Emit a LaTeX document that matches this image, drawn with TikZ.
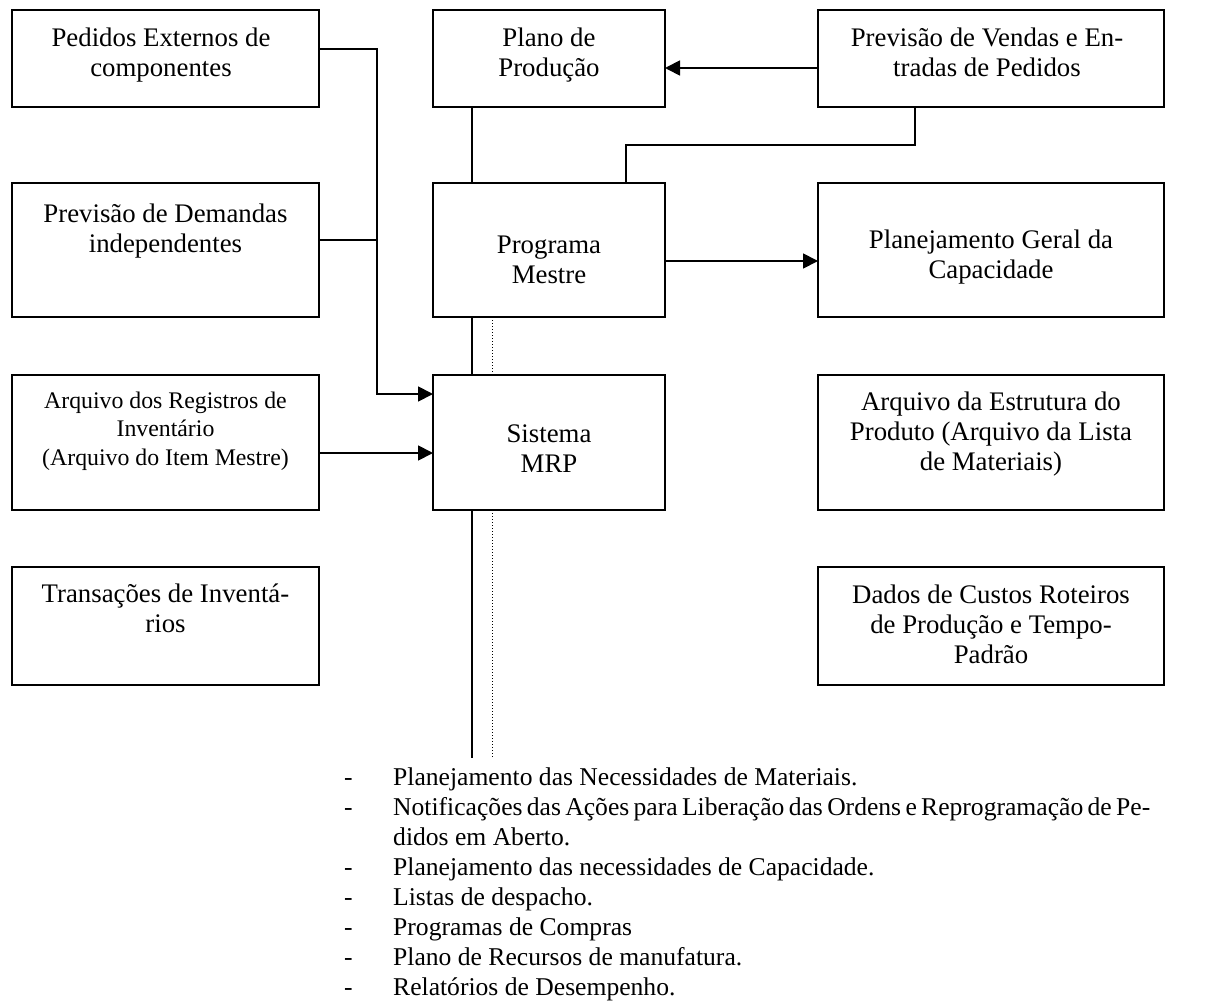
\documentclass[tikz,border=0pt]{standalone}
\usepackage{fontspec}
\setmainfont{Liberation Serif}
\usetikzlibrary{arrows.meta}
\begin{document}
\begin{tikzpicture}[x=1pt,y=-1pt,
  box/.style={draw, line width=1.8pt, inner sep=0pt, outer sep=0pt},
  wide/.style={minimum width=307pt},
  mid/.style={minimum width=232pt},
  right/.style={minimum width=346pt},
  txt/.style={align=center, inner sep=0pt, font=\fontsize{26.8}{30}\selectfont},
  small/.style={align=center, inner sep=0pt, font=\fontsize{23.8}{28.5}\selectfont},
  item/.style={anchor=base west, inner sep=0pt, font=\fontsize{25.6}{30}\selectfont},
  wire/.style={line width=1.8pt},
  arr/.style={wire, -{Triangle[length=15pt,width=15pt]}},
  dotline/.style={line width=1pt, dotted},
  ]
\useasboundingbox (0,0) rectangle (1231,1003);

% left column
\node[box, wide, minimum height=97pt]  (pedidos)    at (165.5,58.5)  {};
\node[box, wide, minimum height=134pt] (demandas)   at (165.5,250)   {};
\node[box, wide, minimum height=135pt] (registros)  at (165.5,442.5) {};
\node[box, wide, minimum height=118pt] (transacoes) at (165.5,626)   {};
% centre column
\node[box, mid, minimum height=97pt]   (plano)      at (549,58.5)    {};
\node[box, mid, minimum height=134pt]  (programa)   at (549,250)     {};
\node[box, mid, minimum height=135pt]  (mrp)        at (549,442.5)   {};
% right column
\node[box, right, minimum height=97pt]  (vendas)     at (991,58.5)   {};
\node[box, right, minimum height=134pt] (capacidade) at (991,250)    {};
\node[box, right, minimum height=135pt] (estrutura)  at (991,442.5)  {};
\node[box, right, minimum height=118pt] (dados)      at (991,626)    {};

% box texts
\node[txt] (pedidosT)    at (161,56)    {\strut Pedidos Externos de\\componentes\strut};
\node[txt] (demandasT)   at (165.5,231) {\strut Previsão de Demandas\\independentes\strut};
\node[small] (registrosT) at (165.5,431) {\strut Arquivo dos Registros de\\Inventário\\(Arquivo do Item Mestre)\strut};
\node[txt] (transacoesT) at (165.5,611) {\strut Transações de Inventá-\\rios\strut};
\node[txt] (planoT)      at (549,56)    {\strut Plano de\\Produção\strut};
\node[txt] (programaT)   at (549,262)   {\strut Programa\\Mestre\strut};
\node[txt] (mrpT)        at (549,451)   {\strut Sistema\\MRP\strut};
\node[txt] (vendasT)     at (987,56)    {\strut Previsão de Vendas e En-\\tradas de Pedidos\strut};
\node[txt] (capacidadeT) at (991,257)   {\strut Planejamento Geral da\\Capacidade\strut};
\node[txt] (estruturaT)  at (991,434)   {\strut Arquivo da Estrutura do\\Produto (Arquivo da Lista\\de Materiais)\strut};
\node[txt] (dadosT)      at (991,627)   {\strut Dados de Custos Roteiros\\de Produção e Tempo-\\Padrão\strut};

% connectors
\draw[arr] ([yshift=9.5pt]pedidos.east) -| ([xshift=-56pt,yshift=48.5pt]mrp.west) -- ([yshift=48.5pt]mrp.west);
\draw[wire] ([yshift=10pt]demandas.east) -- ++(58,0);
\draw[arr] ([yshift=-10.5pt]registros.east) -- ([yshift=-10.5pt]mrp.west);
\draw[arr] ([yshift=-9.5pt]vendas.west) -- ([yshift=-9.5pt]plano.east);
\draw[wire] ([xshift=39pt]plano.south west) -- ([xshift=39pt]programa.north west);
\draw[wire] ([xshift=97pt]vendas.south west) |- ([xshift=193pt,yshift=38pt]programa.north west) -- ([xshift=193pt]programa.north west);
\draw[arr] ([yshift=-11pt]programa.east) -- ([yshift=-11pt]capacidade.west);
\draw[wire] ([xshift=39pt]programa.south west) -- ([xshift=39pt]mrp.north west);
\draw[dotline] ([xshift=59pt]programa.south west) -- ([xshift=59pt]mrp.north west);
\coordinate (outSolid) at (472,758);
\coordinate (outDotted) at (492,758);
\draw[wire] ([xshift=39pt]mrp.south west) -- (outSolid);
\draw[dotline] ([xshift=59pt]mrp.south west) -- (outDotted);

% output list
\foreach \y [count=\i] in {785,815,875,905,935,965,995}
  \node[item] (dash\i) at (344,\y) {-};
\node[item] (out1) at (393,785) {Planejamento das Necessidades de Materiais.};
\node[item] (out2) at (393,815) {\makebox[757pt][s]{Notificações das Ações para Liberação das Ordens e Reprogramação de Pe-}};
\node[item] (out2b) at (393,845) {didos em Aberto.};
\node[item] (out3) at (393,875) {Planejamento das necessidades de Capacidade.};
\node[item] (out4) at (393,905) {Listas de despacho.};
\node[item] (out5) at (393,935) {Programas de Compras};
\node[item] (out6) at (393,965) {Plano de Recursos de manufatura.};
\node[item] (out7) at (393,995) {Relatórios de Desempenho.};
\end{tikzpicture}
\end{document}
